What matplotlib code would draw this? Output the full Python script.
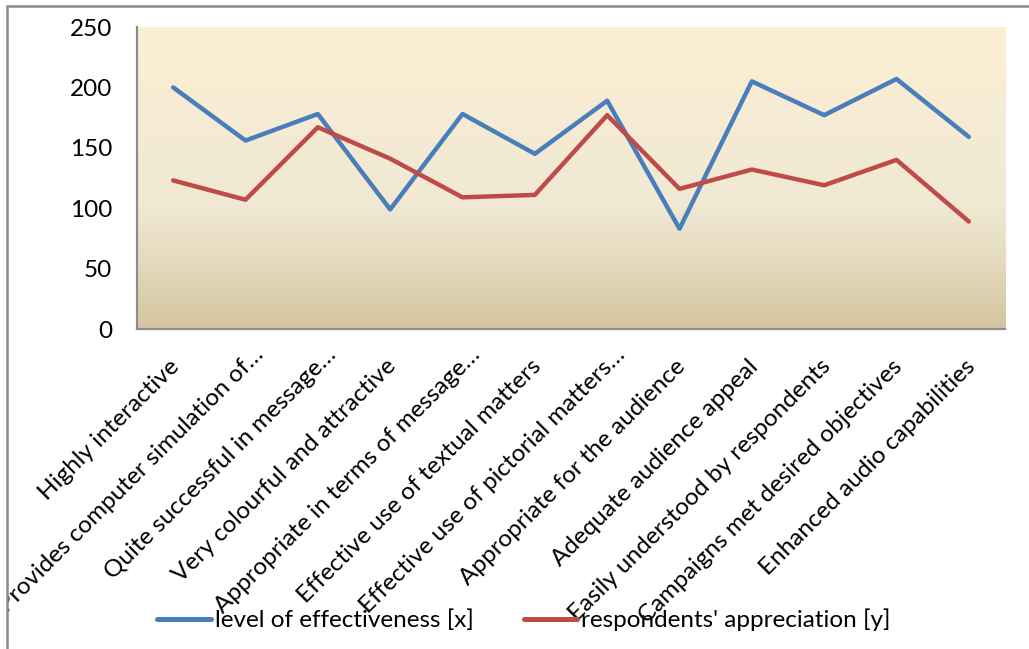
import matplotlib
matplotlib.use("Agg")
import matplotlib.pyplot as plt
import numpy as np
from matplotlib.colors import LinearSegmentedColormap
from matplotlib.patches import Rectangle
from matplotlib.transforms import Bbox, TransformedBbox, ScaledTranslation

# ---- data -------------------------------------------------------------
categories = [
    "Highly interactive",
    "Provides computer simulation of\u2026",
    "Quite successful in message\u2026",
    "Very colourful and attractive",
    "Appropriate in terms of message\u2026",
    "Effective use of textual matters",
    "Effective use of pictorial matters\u2026",
    "Appropriate for the audience",
    "Adequate audience appeal",
    "Easily understood by respondents",
    "Campaigns met desired objectives",
    "Enhanced audio capabilities",
]
effectiveness = [200, 156, 178, 99, 178, 145, 189, 83, 205, 177, 207, 159]
appreciation = [123, 107, 167, 141, 109, 111, 177, 116, 132, 119, 140, 89]
series_names = ["level of effectiveness [x]", "respondents' appreciation [y]"]
y_ticks = [0, 50, 100, 150, 200, 250]

# ---- style ------------------------------------------------------------
plt.rcParams["font.family"] = ["Lato", "DejaVu Sans"]
FS = 17.5
W, H = 1029, 649
fig = plt.figure(figsize=(W / 100, H / 100), dpi=100)
fig.patch.set_facecolor("white")

ax = fig.add_axes([137 / W, 1 - 329 / H, (1005 - 137) / W, (329 - 27) / H])

# parchment-style vertical gradient behind the plot area
grad = LinearSegmentedColormap.from_list(
    "parchment",
    [(0.0, "#d3c5a0"), (0.25, "#e6dcc0"), (0.42, "#f1e9d5"),
     (0.75, "#f7ecd4"), (1.0, "#fdefd2")],
)
ax.imshow(np.linspace(0, 1, 256).reshape(-1, 1), cmap=grad, aspect="auto",
          extent=(0, 1, 0, 1), transform=ax.transAxes, origin="lower",
          zorder=0, interpolation="bicubic")

x = np.arange(len(categories))
blue = "#4a7ebb"
red = "#be4b48"
ax.plot(x, effectiveness, color=blue, lw=3.2, solid_capstyle="round",
        solid_joinstyle="round", label=series_names[0], zorder=3)
ax.plot(x, appreciation, color=red, lw=3.2, solid_capstyle="round",
        solid_joinstyle="round", label=series_names[1], zorder=3)

ax.set_xlim(-0.5, len(categories) - 0.5)
ax.set_ylim(0, 250)
ax.set_yticks(y_ticks)
ax.set_yticklabels([str(v) for v in y_ticks], fontsize=FS)
ax.tick_params(axis="y", length=0, pad=18)
ax.tick_params(axis="x", length=0, pad=0)

for side in ("top", "right"):
    ax.spines[side].set_visible(False)
for side in ("left", "bottom"):
    ax.spines[side].set_color("#8c8c8c")
    ax.spines[side].set_linewidth(1.6)
    ax.spines[side].set_zorder(4)

# diagonal category labels, clipped to the chart frame
frame_clip = TransformedBbox(Bbox([[7 / W, 0], [1, 1 - 6 / H]]), fig.transFigure)
ax.set_xticks(x)
ax.set_xticklabels(categories, fontsize=FS)
for lab in ax.get_xticklabels():
    # shortened labels sit a little further along the diagonal
    extra = 8.5 if lab.get_text().endswith("\u2026") else 0.0
    shift = ScaledTranslation((2 + extra) / 72, (-24.5 + extra) / 72,
                              fig.dpi_scale_trans)
    lab.set_rotation(45)
    lab.set_ha("right")
    lab.set_va("center")
    lab.set_rotation_mode("anchor")
    lab.set_transform(lab.get_transform() + shift)
    lab.set_clip_on(True)
    lab.set_clip_box(frame_clip)

# legend along the bottom
leg = fig.legend(
    loc="center", bbox_to_anchor=(524 / W, 1 - 620 / H), ncol=2,
    frameon=False, fontsize=FS, handlelength=2.2, handletextpad=0.17,
    columnspacing=2.05, borderpad=0,
)
for h in leg.get_lines():
    h.set_linewidth(3.6)
    h.set_solid_capstyle("round")

# chart frame (top and left edges visible)
fig.add_artist(Rectangle((7 / W, -0.2), 1.2, 1.2 - 6 / H,
                         transform=fig.transFigure, fill=False,
                         edgecolor="#8a8a8a", linewidth=1.8, zorder=5))

fig.savefig("out.png", dpi=100, facecolor="white")
